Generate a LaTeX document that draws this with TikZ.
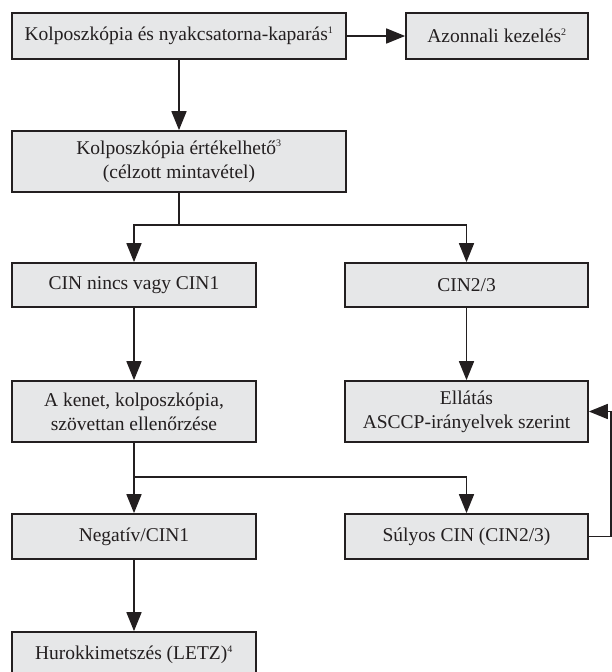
\documentclass[tikz,border=0pt]{standalone}
\usepackage{fontspec}
\setmainfont{Liberation Serif}
\usetikzlibrary{arrows.meta}
\definecolor{boxfill}{HTML}{E6E7E8}
\definecolor{ink}{HTML}{231F20}
\newcommand{\fn}[1]{\textsuperscript{\fontsize{10}{10}\selectfont #1}}
\begin{document}
\begin{tikzpicture}[x=1pt,y=-1pt,
  box/.style={draw=ink, line width=1.7pt, fill=boxfill, rectangle, align=center,
    inner sep=0pt, text=ink, font=\fontsize{19.5}{24}\selectfont},
  arr/.style={draw=ink, line width=1.7pt, -{Triangle[length=19pt,width=15pt]}},
  ln/.style={draw=ink, line width=1.7pt}]
\useasboundingbox (0,0) rectangle (612,672);

% nodes
\node[box, minimum width=334pt, minimum height=46pt] (kolp) at (179,36)
  {Kolposzkópia és nyakcsatorna-kaparás\fn{1}};
\node[box, minimum width=182pt, minimum height=46pt] (azon) at (497,36)
  {Azonnali kezelés\fn{2}};
\node[box, minimum width=334pt, minimum height=61pt] (ert) at (179,161.5)
  {Kolposzkópia értékelhető\fn{3}\\(célzott mintavétel)};
\node[box, minimum width=244pt, minimum height=44pt] (cin1) at (134,285)
  {CIN nincs vagy CIN1};
\node[box, minimum width=243pt, minimum height=44pt] (cin23) at (466.5,285)
  {CIN2/3};
\node[box, minimum width=244pt, minimum height=61pt] (kenet) at (134,411.5)
  {A kenet, kolposzkópia,\\szövettan ellenőrzése};
\node[box, minimum width=243pt, minimum height=61pt] (ell) at (466.5,411.5)
  {Ellátás\\ASCCP-irányelvek szerint};
\node[box, minimum width=244pt, minimum height=45pt] (neg) at (134,536.5)
  {Negatív/CIN1};
\node[box, minimum width=243pt, minimum height=45pt] (suly) at (466.5,536.5)
  {Súlyos CIN (CIN2/3)};
\node[box, minimum width=244pt, minimum height=46pt] (hurok) at (134,655)
  {Hurokkimetszés (LETZ)\fn{4}};

% branch points
\coordinate (s1) at (179,225);
\coordinate (s2) at (134,477);

% connectors
\draw[arr] (kolp) -- (azon);
\draw[arr] (kolp) -- (ert);
\draw[ln] (ert.south) -- (s1);
\draw[arr] (s1) -| (cin1.north);
\draw[arr] (s1) -| (cin23.north);
\draw[arr] (cin1) -- (kenet);
\draw[arr] (cin23) -- (ell);
\draw[ln] (kenet.south) -- (s2);
\draw[arr] (s2) -| (neg.north);
\draw[arr] (s2) -| (suly.north);
\draw[arr] (neg) -- (hurok);
\draw[arr] (suly.east) -- ++(22,0) |- (ell.east);
\end{tikzpicture}
\end{document}
